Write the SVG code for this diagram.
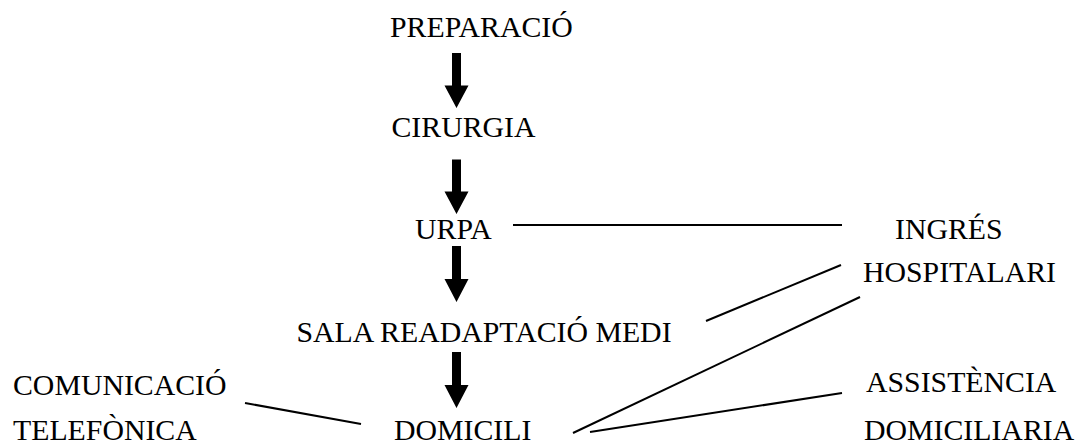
<svg xmlns="http://www.w3.org/2000/svg" width="1075" height="446" viewBox="0 0 1075 446">
<style>
text { font-family: "Liberation Serif", "Times New Roman", serif; font-size: 29.8px; fill: #000; }
.ln { stroke: #000; stroke-width: 2; fill: none; }
.arr { fill: #000; }
</style>
<defs>
<path id="bigArrow" d="M-4.5,0 H4.5 V33 H12 L0,56 L-12,33 H-4.5 Z"/>
</defs>
<rect width="1075" height="446" fill="#fff"/>
<g id="n-preparacio"><text x="390" y="37">PREPARACIÓ</text></g>
<g id="n-cirurgia"><text x="391.5" y="137">CIRURGIA</text></g>
<g id="n-urpa"><text x="415" y="239">URPA</text></g>
<g id="n-sala"><text x="296.5" y="342">SALA READAPTACIÓ MEDI</text></g>
<g id="n-domicili"><text x="394" y="440">DOMICILI</text></g>
<g id="n-comunicacio"><text x="13" y="395">COMUNICACIÓ</text><text x="13" y="440">TELEFÒNICA</text></g>
<g id="n-ingres"><text x="895" y="238.5">INGRÉS</text><text x="863" y="282">HOSPITALARI</text></g>
<g id="n-assistencia"><text x="866" y="392">ASSISTÈNCIA</text><text x="864" y="440">DOMICILIARIA</text></g>
<g id="connectors">
<use href="#bigArrow" class="arr" transform="translate(456.5,53) scale(1,0.982)"/>
<use href="#bigArrow" class="arr" transform="translate(456.5,159.5) scale(1,0.973)"/>
<use href="#bigArrow" class="arr" transform="translate(456.5,246) scale(1,1)"/>
<use href="#bigArrow" class="arr" transform="translate(456.5,352) scale(1,1)"/>
<line class="ln" x1="513" y1="225" x2="842" y2="225"/>
<line class="ln" x1="706" y1="321" x2="841" y2="265"/>
<line class="ln" x1="573" y1="433" x2="860" y2="297"/>
<line class="ln" x1="590" y1="432" x2="842" y2="393"/>
<line class="ln" x1="245" y1="403" x2="361" y2="424"/>
</g>
</svg>
